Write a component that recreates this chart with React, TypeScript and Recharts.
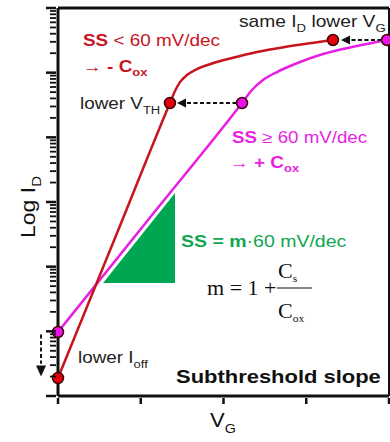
import { ComposedChart, Line, Area, Scatter, XAxis, YAxis, ReferenceLine, ReferenceDot } from 'recharts'

// V_G in arbitrary units, Log I_D in decades
const vgTicks = [0, 1, 2, 3, 4]
const decades = [0, 1, 2, 3, 4, 5, 6]
const minorSteps = [2, 3, 4, 5, 6, 7, 8, 9]

const steepCurve = [
  { x: 0, y: 0.278 },
  { x: 0.7, y: 2.478 },
  { x: 1.353, y: 4.531 },
  { x: 1.414, y: 4.716 },
  { x: 1.474, y: 4.854 },
  { x: 1.559, y: 4.963 },
  { x: 1.68, y: 5.056 },
  { x: 1.861, y: 5.141 },
  { x: 2.103, y: 5.226 },
  { x: 2.405, y: 5.319 },
  { x: 2.743, y: 5.397 },
  { x: 3.069, y: 5.459 },
  { x: 3.323, y: 5.505 },
]

const normalCurve = [
  { x: 0, y: 0.99 },
  { x: 1.1, y: 2.741 },
  { x: 2.224, y: 4.531 },
  { x: 2.344, y: 4.732 },
  { x: 2.477, y: 4.887 },
  { x: 2.647, y: 5.01 },
  { x: 2.864, y: 5.134 },
  { x: 3.202, y: 5.288 },
  { x: 3.613, y: 5.412 },
  { x: 3.976, y: 5.505 },
]

const steepDots = [
  { x: 0, y: 0.278 },
  { x: 1.353, y: 4.531 },
  { x: 3.323, y: 5.505 },
]

const normalDots = [
  { x: 0, y: 0.99 },
  { x: 2.224, y: 4.531 },
  { x: 3.976, y: 5.505 },
]

// slope triangle (hypotenuse follows the SS >= 60 line)
const slopeTriangle = [
  { x: 0.544, y: 1.747 },
  { x: 1.414, y: 3.139 },
]
const triangleBase = 1.747

// dashed arrows: from -> base of head, head tip
const arrows = [
  { from: { x: 2.157, y: 4.531 }, to: { x: 1.535, y: 4.531 }, tip: { x: 1.438, y: 4.531 }, dir: 'left' },
  { from: { x: 3.909, y: 5.505 }, to: { x: 3.529, y: 5.505 }, tip: { x: 3.42, y: 5.505 }, dir: 'left' },
  { from: { x: -0.205, y: 0.95 }, to: { x: -0.205, y: 0.5 }, tip: { x: -0.205, y: 0.3 }, dir: 'down' },
]

const FONT = '"Liberation Sans", Arial, sans-serif'
const SERIF = '"Liberation Serif", "Times New Roman", serif'
const INK = '#111'
const RED = '#c8141c'
const MAGENTA = '#e81ee4'
const GREEN = '#0fa550'

const CHART_H = 442
const TOP = 8
const X_AXIS_H = 46
const DECADE_PX = (CHART_H - TOP - X_AXIS_H) / (decades.length - 1)

// one decade: long tick at the decade, short log ticks above it
const DecadeTick = (props: any) => {
  const { x, y, payload } = props
  const minors = payload.value < decades[decades.length - 1] ? minorSteps : []
  return (
    <g>
      <line x1={x - 10} x2={x} y1={y} y2={y} stroke={INK} strokeWidth={2.5} />
      {minors.map((k) => {
        const ty = y - Math.log10(k) * DECADE_PX
        return <line key={k} x1={x - 6} x2={x} y1={ty} y2={ty} stroke={INK} strokeWidth={1.8} />
      })}
    </g>
  )
}

const VgTick = (props: any) => {
  const { x, y } = props
  return <line x1={x} x2={x} y1={y} y2={y + 6} stroke={INK} strokeWidth={2.5} />
}

const Dot = (color: string) => (props: any) =>
  <circle cx={props.cx} cy={props.cy} r={5.5} fill={color} stroke="#3a0606" strokeWidth={1.5} />

const ArrowHead = (dir: string) => (props: any) => {
  const { cx, cy } = props
  const pts =
    dir === 'left'
      ? `${cx},${cy} ${cx + 9},${cy - 4.5} ${cx + 9},${cy + 4.5}`
      : `${cx},${cy} ${cx - 5},${cy - 11} ${cx + 5},${cy - 11}`
  return <polygon points={pts} fill={INK} />
}

const Note = ({ x, y, size = 16, color = '#222', stretch = 1.18, rotate = 0, family = FONT, weight = 'normal', children }: any) => (
  <g transform={`translate(${x},${y}) rotate(${rotate}) scale(${stretch},1)`}>
    <text x={0} y={0} fontSize={size} fill={color} fontFamily={family} fontWeight={weight}>
      {children}
    </text>
  </g>
)

export default function App() {
  return (
    <div style={{ position: 'absolute', left: 0, top: 0, width: 390, height: CHART_H, background: '#fff' }}>
      <ComposedChart width={390} height={CHART_H} margin={{ top: TOP, right: 1, bottom: 0, left: 0 }}>
        <XAxis
          type="number"
          dataKey="x"
          domain={[0, 4]}
          ticks={vgTicks}
          interval={0}
          height={X_AXIS_H}
          tickSize={0}
          tickLine={false}
          tick={VgTick}
          axisLine={{ stroke: INK, strokeWidth: 3 }}
        />
        <YAxis
          type="number"
          dataKey="y"
          domain={[0, 6]}
          ticks={decades}
          interval={0}
          width={58}
          tickSize={0}
          tickLine={false}
          tick={DecadeTick}
          axisLine={{ stroke: INK, strokeWidth: 3 }}
        />
        <ReferenceLine y={6} stroke={INK} strokeWidth={3} ifOverflow="visible" />
        <ReferenceLine x={4} stroke={INK} strokeWidth={2} ifOverflow="visible" />

        <Area
          data={slopeTriangle}
          dataKey="y"
          type="linear"
          baseValue={triangleBase}
          fill="#00a651"
          fillOpacity={1}
          stroke="none"
          isAnimationActive={false}
        />
        <Line data={normalCurve} dataKey="y" type="monotone" stroke={MAGENTA} strokeWidth={2.5} dot={false} isAnimationActive={false} />
        <Line data={steepCurve} dataKey="y" type="monotone" stroke={RED} strokeWidth={2.5} dot={false} isAnimationActive={false} />

        {arrows.map((a, i) => (
          <ReferenceLine
            key={`l${i}`}
            segment={[a.from, a.to]}
            stroke={INK}
            strokeWidth={2}
            strokeDasharray="4 2.5"
            ifOverflow="visible"
          />
        ))}
        {arrows.map((a, i) => (
          <ReferenceDot key={`h${i}`} x={a.tip.x} y={a.tip.y} r={0} ifOverflow="visible" shape={ArrowHead(a.dir)} />
        ))}

        <Scatter data={normalDots} dataKey="y" shape={Dot('#ee10e8')} isAnimationActive={false} />
        <Scatter data={steepDots} dataKey="y" shape={Dot('#e2000c')} isAnimationActive={false} />
      </ComposedChart>

      <svg width={390} height={CHART_H} style={{ position: 'absolute', left: 0, top: 0, pointerEvents: 'none' }}>
        <Note x={83} y={46} color={RED}>
          <tspan fontWeight="bold">SS</tspan> &lt; 60 mV/dec
        </Note>
        <Note x={83} y={72} color={RED}>
          <tspan>→ </tspan>
          <tspan fontWeight="bold">- C</tspan>
          <tspan fontWeight="bold" fontSize={11} dy={4}>ox</tspan>
        </Note>
        <Note x={80} y={109}>
          lower V<tspan fontSize={11} dy={5}>TH</tspan>
        </Note>
        <Note x={239} y={27} stretch={1.2}>
          same I<tspan fontSize={11} dy={5}>D</tspan>
          <tspan dy={-5}> lower V</tspan>
          <tspan fontSize={11} dy={5}>G</tspan>
        </Note>
        <Note x={232} y={143} color={MAGENTA} stretch={1.17}>
          <tspan fontWeight="bold">SS</tspan> ≥ 60 mV/dec
        </Note>
        <Note x={230} y={168} color={MAGENTA}>
          <tspan>→ </tspan>
          <tspan fontWeight="bold">+ C</tspan>
          <tspan fontWeight="bold" fontSize={11} dy={4}>ox</tspan>
        </Note>
        <Note x={181} y={247} color={GREEN} stretch={1.22}>
          <tspan fontWeight="bold">SS = m</tspan>·60 mV/dec
        </Note>

        <Note x={207} y={295} size={21} family={SERIF} color="#111" stretch={1.05}>
          m = 1 +
        </Note>
        <Note x={278} y={278} size={21} family={SERIF} color="#111" stretch={1.05}>
          C<tspan fontSize={11} dy={4}>s</tspan>
        </Note>
        <line x1={277} x2={312} y1={288} y2={288} stroke="#111" strokeWidth={1.2} />
        <Note x={278} y={318} size={21} family={SERIF} color="#111" stretch={1.05}>
          C<tspan fontSize={11} dy={4}>ox</tspan>
        </Note>

        <Note x={78} y={363}>
          lower I<tspan fontSize={11} dy={5}>off</tspan>
        </Note>
        <Note x={176} y={383} size={18} weight="bold" color="#111" stretch={1.22}>
          Subthreshold slope
        </Note>

        <Note x={35} y={238} size={20} rotate={-90} stretch={1.15} color="#111">
          Log I<tspan fontSize={13} dy={6}>D</tspan>
        </Note>
        <Note x={210} y={427} size={20} stretch={1.1} color="#111">
          V<tspan fontSize={13} dy={6}>G</tspan>
        </Note>
      </svg>
    </div>
  )
}
